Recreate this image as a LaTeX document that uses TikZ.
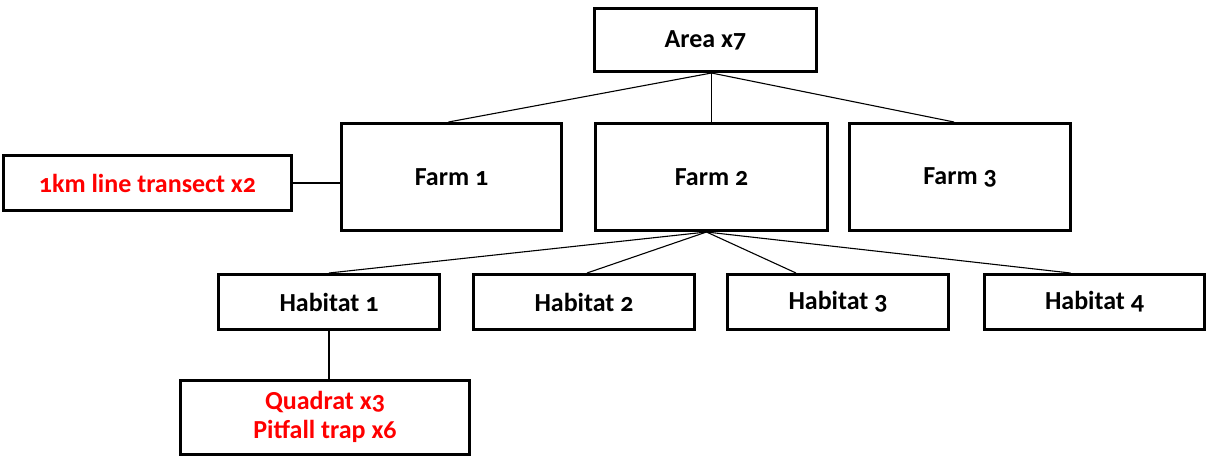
\documentclass[tikz,border=0pt]{standalone}
\usepackage{fontspec}
\setmainfont[Numbers=OldStyle]{Carlito}
\usetikzlibrary{calc}
\definecolor{redtext}{RGB}{255,0,0}
\begin{document}
\begin{tikzpicture}[x=1pt,y=-1pt,
  box/.style={draw=black,line width=3pt,fill=white,font=\bfseries\fontsize{26}{29}\selectfont,align=center,inner sep=0pt},
  conn/.style={draw=black,line width=1.1pt}]
\useasboundingbox (0,0) rectangle (1208,459);
\node[box,minimum width=222,minimum height=63] (area) at (705.5,40) {Area x7};
\node[box,minimum width=220,minimum height=107] (farm1) at (451.5,177) {Farm 1};
\node[box,minimum width=232,minimum height=107] (farm2) at (711.5,177) {Farm 2};
\node[box,minimum width=221,minimum height=107] (farm3) at (960,177) {Farm 3};
\node[box,minimum width=288,minimum height=55,text=redtext] (transect) at (147.5,183) {1km line transect x2};
\node[box,minimum width=221,minimum height=55] (h1) at (329,302) {Habitat 1};
\node[box,minimum width=221,minimum height=55] (h2) at (584,302) {Habitat 2};
\node[box,minimum width=221,minimum height=55] (h3) at (838,302) {Habitat 3};
\node[box,minimum width=220,minimum height=55] (h4) at (1094.5,302) {Habitat 4};
\node[box,minimum width=289,minimum height=74,text=redtext] (quad) at (325,417) {Quadrat x3\\Pitfall trap x6};
\coordinate (atop) at (area.south -| farm2.north);
\draw[conn] (atop) -- ($(farm1.north)+(-3,0)$);
\draw[conn] (atop) -- (farm2.north);
\draw[conn] (atop) -- ($(farm3.north)+(-6,0)$);
\coordinate (fbot) at ($(farm2.south)+(-5,0)$);
\draw[conn] (fbot) -- (h1.north);
\draw[conn] (fbot) -- ($(h2.north)+(3,0)$);
\draw[conn] (fbot) -- ($(h3.north)+(-42,0)$);
\draw[conn] (fbot) -- ($(h4.north)+(-24,0)$);
\draw[conn] (transect.east) -- (transect.east -| farm1.west);
\draw[conn] (h1.south) -- (h1.south |- quad.north);
\end{tikzpicture}
\end{document}
